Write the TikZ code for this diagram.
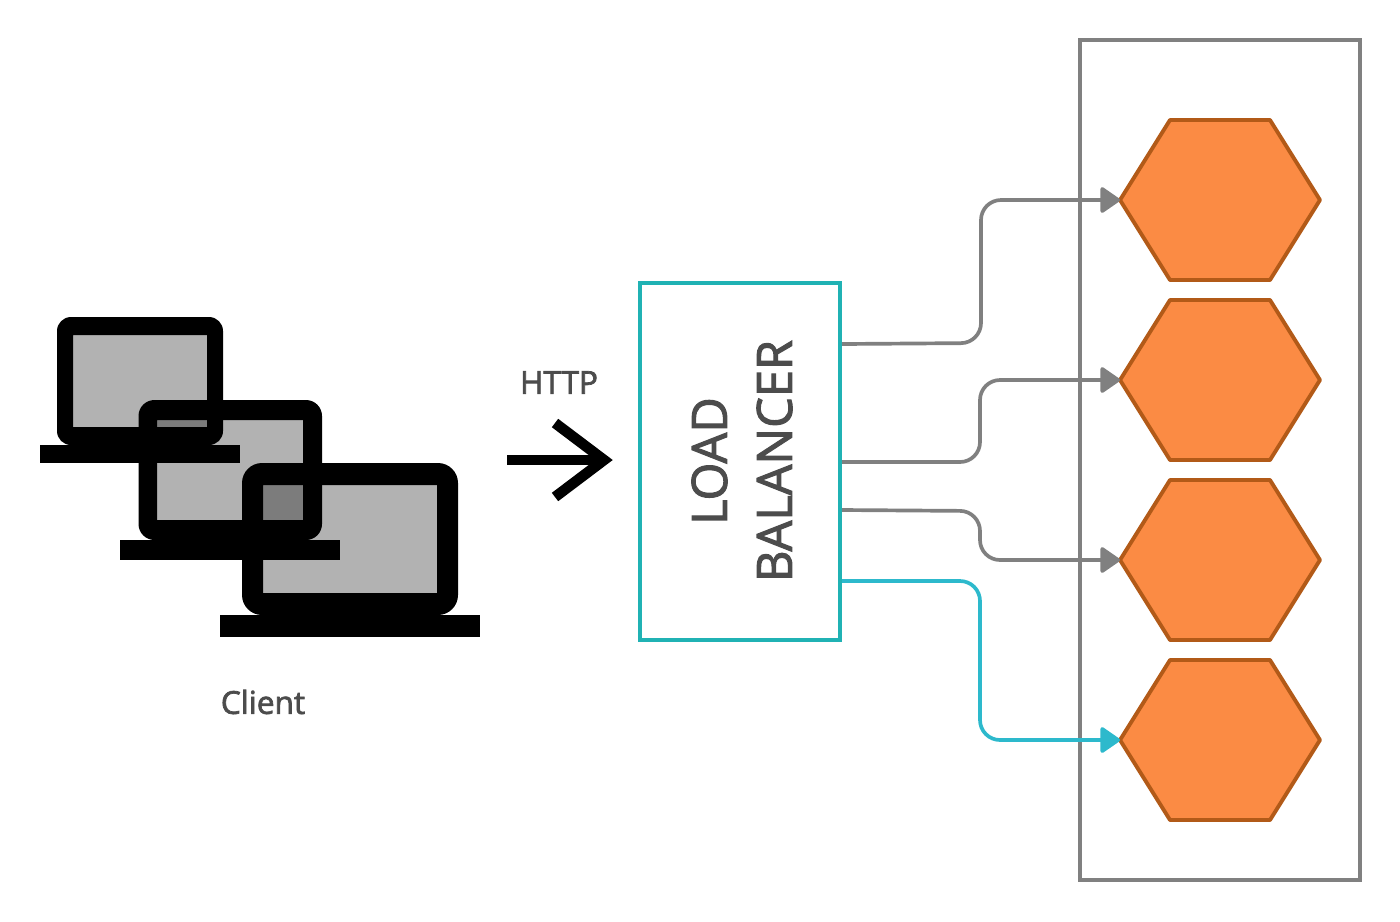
\documentclass[tikz,border=0pt]{standalone}
\usepackage{fontspec}
\setmainfont{Open Sans}[RawFeature={embolden=2.2}]
\usetikzlibrary{arrows.meta,shapes.geometric}
\definecolor{hexfill}{HTML}{FB8B44}
\definecolor{hexline}{HTML}{B25A18}
\definecolor{boxteal}{HTML}{20B2B4}
\definecolor{linkteal}{HTML}{2DB9CC}
\tikzset{
	hexnode/.style={draw=hexline,fill=hexfill,regular polygon,regular polygon sides=6,minimum size=4cm,inner sep=0,outer sep=0,line width=2.2pt,yscale=.924,transform shape,line join=round},
	graylink/.style={draw=gray,line width=2.1pt,rounded corners=.4cm,-{Triangle[round,length=12pt,width=16pt]}},
	teallink/.style={graylink,draw=linkteal},
	label/.style={text=black!70,font=\fontsize{18}{22}\selectfont,inner sep=0},
}
\begin{document}
\begin{tikzpicture}[x=.02cm,y=-.02cm]
		\useasboundingbox (0,0) rectangle (1400,921);
		% laptops
		\foreach \a/\b/\c/\d/\e/\f/\g/\h/\i/\k/\j/\r in {57/317/223/445/73/335/207/427/40/240/463/14,138.5/400/322/540/157/420/303/520/120/340/560/16,242/463/458/615/263/485/437/593/220/480/637/20}{
			\fill[black,even odd rule] [rounded corners=\r*.02cm] (\a,\b) rectangle (\c,\d) [sharp corners] (\e,\f) rectangle (\g,\h);
			\fill[black,opacity=.3] (\e,\f) rectangle (\g,\h);
			\fill[black] (\i,\d) rectangle (\k,\j);
		}
		\node[label] (client) at (263,702){Client};
		\node[label] (http) at (559,382.5){HTTP};
		% http arrow
		\coordinate (arrowstart) at (507,460);
		\coordinate (arrowtip) at (604,460);
		\draw[line width=5.8pt] (arrowstart)--(arrowtip);
		\draw[line width=6pt,miter limit=10] (555,423)--(arrowtip)--(555,497);
		% balancer
		\node[draw=boxteal,line width=1.8pt,minimum width=4cm,minimum height=7.14cm,inner sep=0,outer sep=0] (lb) at (740,461.5){};
		\node[label,font=\fontsize{27.7}{37}\selectfont,rotate=90,align=center] (lbtext) at (742,461){LOAD\\BALANCER};
		% servers
		\draw[gray,line width=1.9pt] (1080,40) rectangle (1360,880);
		\node[hexnode] (h1) at (1220,200){};
		\node[hexnode] (h2) at (1220,380){};
		\node[hexnode] (h3) at (1220,560){};
		\node[hexnode] (h4) at (1220,740){};
		\coordinate (lb1) at (842,344);
		\coordinate (lb2) at (842,462);
		\coordinate (lb3) at (842,510);
		\coordinate (lb4) at (842,581);
		\draw[graylink] (lb1)--(981,343)--(981,200)--(h1.west);
		\draw[graylink] (lb2)--(980,462)--(980,380)--(h2.west);
		\draw[graylink] (lb3)--(980,511)--(980,560)--(h3.west);
		\draw[teallink] (lb4)--(980,581)--(980,740)--(h4.west);
		\end{tikzpicture}
\end{document}
